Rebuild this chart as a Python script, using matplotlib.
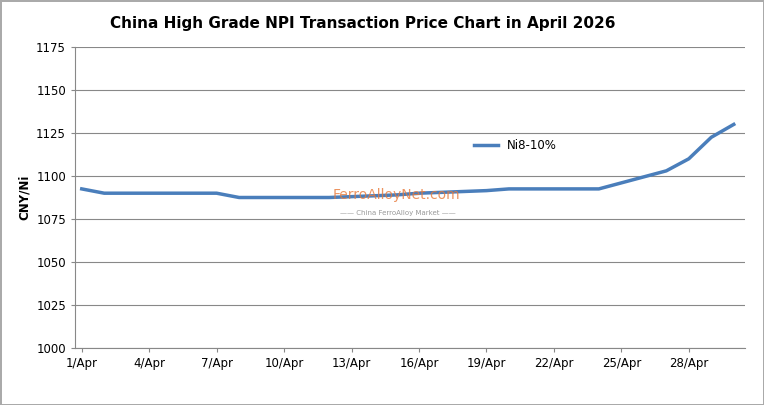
import matplotlib
matplotlib.use("Agg")
import matplotlib.pyplot as plt

days = [f"{d}/Apr" for d in range(1, 31)]
prices = [1092.5, 1090, 1090, 1090, 1090, 1090, 1090, 1087.5, 1087.5, 1087.5,
          1087.5, 1087.5, 1088, 1088.5, 1089, 1090, 1090.5, 1091, 1091.5, 1092.5,
          1092.5, 1092.5, 1092.5, 1092.5, 1096, 1099.5, 1103, 1110, 1122.5, 1130]
series_name = "Ni8-10%"
title = "China High Grade NPI Transaction Price Chart in April 2026"

fig = plt.figure(figsize=(7.64, 4.05), dpi=100)
ax = fig.add_axes([75/764, 57/405, (745-75)/764, (348-47)/405])
x = list(range(len(days)))
ax.plot(x, prices, color="#4a7ebb", lw=2.5, label=series_name)
ax.set_ylim(1000, 1175)
ax.set_yticks(range(1000, 1176, 25))
ax.set_xlim(-0.3, 29.5)
ax.set_xticks(x[::3])
ax.set_xticklabels(days[::3])
ax.grid(axis="y", color="#888888", lw=0.8)
ax.set_axisbelow(True)
for s in ["top", "right"]:
    ax.spines[s].set_visible(False)
for s in ["left", "bottom"]:
    ax.spines[s].set_color("#888888")
ax.tick_params(labelsize=8.5, length=3, color="#888888")
ax.set_ylabel("CNY/Ni", fontsize=8.5, fontweight="bold")
fig.text(0.475, 0.93, title, ha="center", fontsize=11, fontweight="bold")
ax.legend(loc="upper left", bbox_to_anchor=(0.58, 0.73), frameon=False, fontsize=8.5)
fig.text(0.435, 0.508, "FerroAlloyNet.com", color="#e87a3a", fontsize=10, alpha=0.8)
fig.text(0.445, 0.47, "—— China FerroAlloy Market ——", color="#999999", fontsize=5)
fig.patch.set_edgecolor("#aaaaaa"); fig.patch.set_linewidth(1)
fig.savefig("out.png", dpi=100)
